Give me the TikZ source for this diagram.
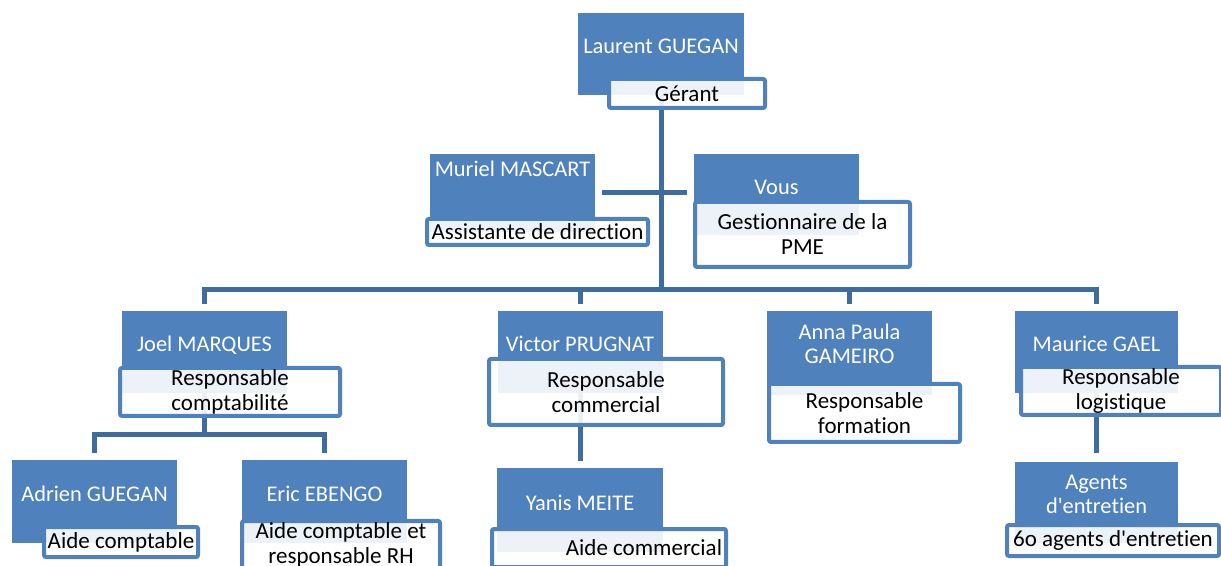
\documentclass[tikz,border=0pt]{standalone}
\usepackage{fontspec}
\setmainfont{Carlito}[Ligatures=NoCommon]
\usepackage{tikz}
\usetikzlibrary{backgrounds}
\usetikzlibrary{positioning, calc}

\definecolor{orgblue}{HTML}{4F81BD}
\definecolor{linkblue}{HTML}{3F6C9E}

\tikzset{
    who/.style={fill=orgblue, text=white, font=\fontsize{11.2}{12}\selectfont, align=center,
        inner sep=0pt, minimum width=82.5pt, minimum height=41pt, text height=8pt, text depth=#1},
    who/.default=8pt,
    role/.style={draw=orgblue, line width=2pt, fill=white, fill opacity=0.9, text opacity=1,
        text=black, font=\fontsize{11.5}{12.5}\selectfont, align=center, inner sep=0pt, rounded corners=1pt},
    link/.style={draw=linkblue, line width=2.5pt},
}

\begin{document}
\begin{tikzpicture}[x=0.5pt, y=-0.5pt]
                    \useasboundingbox (0,0) rectangle (1221,566);
                    \clip (0,0) rectangle (1221,566);

                    % Nodes
                    % top
                    \node[who, minimum width=83pt] (laurent) at (661, 54) {Laurent GUEGAN};
                    \node[role, minimum width=78pt, minimum height=14.5pt] (laurentT) at (687, 93.5) {Gérant};

                    % assistants
                    \node[who=24pt, minimum height=39pt] (muriel) at (512.5, 193) {Muriel MASCART};
                    \node[role, minimum width=110.5pt, minimum height=13pt] (murielT) at (537.5, 232) {Assistante de direction};
                    \node[who, minimum height=40.5pt] (vous) at (776.5, 194.5) {Vous};
                    \node[role, minimum width=107.5pt, minimum height=32.5pt] (vousT) at (802.5, 234.5) {Gestionnaire de la\\PME};

                    % responsables
                    \node[who] (joel) at (204.5, 352) {Joel MARQUES};
                    \node[role, minimum width=110pt, minimum height=24pt] (joelT) at (230, 392) {Responsable\\comptabilité};
                    \node[who] (victor) at (580, 352) {Victor PRUGNAT};
                    \node[role, minimum width=117pt, minimum height=33pt] (victorT) at (606, 392) {Responsable\\commercial};
                    \node[who=0pt, text height=11pt, minimum height=42pt] (anna) at (849.5, 353) {Anna Paula\\GAMEIRO};
                    \node[role, minimum width=95.5pt, minimum height=29pt] (annaT) at (864.5, 413) {Responsable\\formation};
                    \node[who, minimum width=81.5pt] (maurice) at (1096.5, 352) {Maurice GAEL};
                    \node[role, minimum width=100pt, minimum height=24pt] (mauriceT) at (1121, 391) {Responsable\\logistique};

                    % bottom row
                    \node[who, minimum height=41.5pt] (adrien) at (94.5, 501.5) {Adrien GUEGAN};
                    \node[role, minimum width=77pt, minimum height=15pt] (adrienT) at (121, 542) {Aide comptable};
                    \node[who, minimum height=41.5pt] (eric) at (324.5, 501.5) {Eric EBENGO};
                    \node[role, minimum width=99pt, minimum height=24pt] (ericT) at (341, 545) {Aide comptable et\\responsable RH};
                    \node[who, minimum width=83pt, minimum height=42pt] (yanis) at (580, 510) {Yanis MEITE};
                    \node[role, minimum width=117pt, minimum height=19pt, text width=113pt, align=flush right] (yanisT) at (609, 548) {Aide commercial};
                    \node[who=0pt, text height=11pt, minimum width=81.5pt, minimum height=40.5pt] (agents) at (1096.5, 502.5) {Agents\\d\textquotesingle entretien};
                    \node[role, minimum width=106pt, minimum height=15.5pt] (agentsT) at (1113, 540.5) {6o agents d\textquotesingle entretien};

                    \coordinate (bus) at (661, 290);
                    \coordinate (subJ) at (204.5, 435);

                    % Edges
                    \begin{scope}[on background layer]
                    % laurent to bus
                    \draw[link] (laurent) -- (bus);

                    % muriel to vous
                    \draw[link, shorten <=3.5pt, shorten >=3.5pt] (muriel.east) -- (muriel.east -| vous.west);

                    % bus to responsables
                    \draw[link, shorten <=3.5pt, shorten >=3.5pt] (joel.north) |- (bus) -| (maurice.north);
                    \draw[link, shorten >=3.5pt] (bus) -| (victor.north);
                    \draw[link, shorten >=3.5pt] (bus) -| (anna.north);

                    % joel to adrien and eric
                    \draw[link] (joel) -- (subJ);
                    \draw[link, shorten <=3.5pt, shorten >=3.5pt] (adrien.north) |- (subJ) -| (eric.north);

                    % victor to yanis
                    \draw[link, shorten >=3.5pt] (victor) -- (yanis.north);

                    % maurice to agents
                    \draw[link, shorten >=4.5pt] (maurice) -- (agents.north);
                    \end{scope}

                \end{tikzpicture}
\end{document}
